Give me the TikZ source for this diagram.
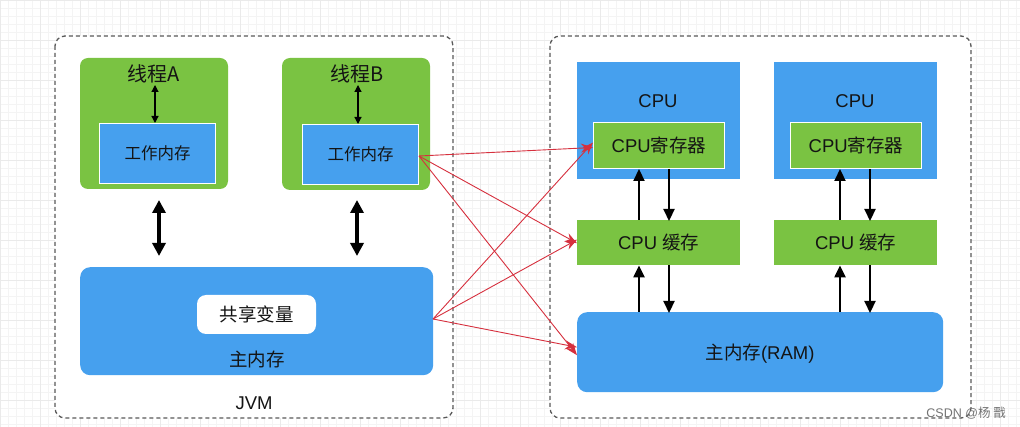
\documentclass[tikz,border=0pt]{standalone}
\usepackage{fontspec}
\setmainfont{Liberation Sans}
\newfontfamily\cjk{Noto Sans CJK SC}
\usetikzlibrary{arrows.meta}
\definecolor{jblue}{RGB}{70,160,238}
\definecolor{jgreen}{RGB}{122,195,66}
\definecolor{jred}{RGB}{214,48,62}
\definecolor{jtext}{RGB}{20,20,20}
\definecolor{gridmin}{RGB}{244,244,244}
\definecolor{gridmaj}{RGB}{234,234,234}
\tikzset{
  panel/.style={draw=black!65, dashed, dash pattern=on 4pt off 3pt, line width=1.3pt, fill=white, rounded corners=10pt},
  thread/.style={fill=jgreen, rounded corners=8pt, draw=none},
  wmem/.style={fill=jblue, draw=white, line width=1pt},
  mainmem/.style={fill=jblue, rounded corners=10pt, draw=none},
  cpubox/.style={fill=jblue, draw=none},
  greenbox/.style={fill=jgreen, draw=none},
  regbox/.style={fill=jgreen, draw=white, line width=1pt},
  lbl/.style={text=jtext, font=\fontsize{16.5}{18}\selectfont, inner sep=0pt},
  big/.style={font=\fontsize{18.5}{20}\selectfont},
  thin2/.style={{Triangle[length=7pt,width=7pt]}-{Triangle[length=7pt,width=7pt]}, line width=1.2pt, black},
  thick2/.style={{Triangle[length=13pt,width=13pt]}-{Triangle[length=13pt,width=13pt]}, line width=4pt, black},
  blk/.style={-{Triangle[length=12pt,width=11pt]}, line width=2.2pt, black},
  redar/.style={-{Stealth[length=12pt,width=9pt]}, line width=0.9pt, jred},
}
\begin{document}
\begin{tikzpicture}[x=1pt,y=-1pt]
\useasboundingbox (0,0) rectangle (1020,427);
% background grid
\draw[gridmin, line width=0.4pt] (0,0) grid[step=8pt] (1020,427);
\foreach \gx in {0,40,...,1020} \draw[gridmaj, line width=0.5pt] (\gx,0) -- (\gx,427);
\foreach \gy in {0,40,...,427} \draw[gridmaj, line width=0.5pt] (0,\gy) -- (1020,\gy);

% panels
\path[panel] (55,36) rectangle (453,418);
\path[panel] (550,36) rectangle (971,418);

% thread A
\path[thread] (80,58) rectangle (228,189);
\node[wmem, minimum width=116pt, minimum height=60pt, anchor=north west] (wa) at (99,123) {};
\node[lbl] at (wa.center) {\cjk 工作内存};
\node[lbl, font=\fontsize{20}{22}\selectfont] (ta) at (154,74) {\cjk 线程A};
\coordinate (tab) at (155,85);
\draw[thin2] (tab) -- (wa.north -| tab);

% thread B
\path[thread] (282,58) rectangle (430,190);
\node[wmem, minimum width=116pt, minimum height=60pt, anchor=north west] (wb) at (302,124) {};
\node[lbl] at (wb.center) {\cjk 工作内存};
\node[lbl, font=\fontsize{20}{22}\selectfont] (tb) at (357,74) {\cjk 线程B};
\coordinate (tbb) at (358,85);
\draw[thin2] (tbb) -- (wb.north -| tbb);

% main memory
\node[mainmem, minimum width=353pt, minimum height=108pt, anchor=north west] (mm) at (80,267) {};
\node[fill=white, rounded corners=9pt, minimum width=119pt, minimum height=39pt, inner sep=0pt] (sv) at (256.5,314.5) {};
\node[lbl, big] at (sv.center) {\cjk 共享变量};
\node[lbl, big] at (257,359) {\cjk 主内存};
\node[lbl, big] (jvm) at (254,403) {JVM};

% thick arrows
\coordinate (a1t) at (159,200); \coordinate (a1b) at (159,256);
\coordinate (a2t) at (357,200); \coordinate (a2b) at (357,256);
\draw[thick2] (a1t) -- (a1b);
\draw[thick2] (a2t) -- (a2b);

% CPUs
\node[cpubox, minimum width=163pt, minimum height=117pt, anchor=north west] (cpu1) at (577,62) {};
\node[lbl, big] at (658,101) {CPU};
\node[regbox, minimum width=131pt, minimum height=46pt, anchor=north west] (r1) at (593,122) {};
\node[lbl, big] at (r1.center) {CPU{\cjk 寄存器}};

\node[cpubox, minimum width=163pt, minimum height=117pt, anchor=north west] (cpu2) at (774,62) {};
\node[lbl, big] at (855,101) {CPU};
\node[regbox, minimum width=131pt, minimum height=46pt, anchor=north west] (r2) at (790,122) {};
\node[lbl, big] at (r2.center) {CPU{\cjk 寄存器}};

% caches
\node[greenbox, minimum width=163pt, minimum height=45pt, anchor=north west] (c1) at (577,220) {};
\node[lbl, big] at (c1.center) {CPU {\cjk 缓存}};
\node[greenbox, minimum width=163pt, minimum height=45pt, anchor=north west] (c2) at (774,220) {};
\node[lbl, big] at (c2.center) {CPU {\cjk 缓存}};

% RAM
\node[mainmem, minimum width=366pt, minimum height=80pt, anchor=north west] (ram) at (577,312) {};
\node[lbl, big] at (760,354) {{\cjk 主内存}(RAM)};

% black arrows CPU 1
\draw[blk] (c1.north -| 639,0) -- (r1.south -| 639,0);
\draw[blk] (r1.south -| 669,0) -- ([yshift=-1pt]c1.north -| 669,0);
\draw[blk] (ram.north -| 639,0) -- (c1.south -| 639,0);
\draw[blk] (c1.south -| 669,0) -- ([yshift=-1pt]ram.north -| 669,0);
% black arrows CPU 2
\draw[blk] (c2.north -| 840,0) -- (r2.south -| 840,0);
\draw[blk] (r2.south -| 870,0) -- ([yshift=-1pt]c2.north -| 870,0);
\draw[blk] (ram.north -| 840,0) -- (c2.south -| 840,0);
\draw[blk] (c2.south -| 870,0) -- ([yshift=-1pt]ram.north -| 870,0);

% red arrows
\coordinate (sb) at (419,156);
\coordinate (sm) at (433,319);
\draw[redar] (sb) -- ([yshift=-2pt]r1.west);
\draw[redar] (sb) -- ([yshift=-0.5pt]c1.west);
\draw[redar] (sb) -- ([yshift=-3pt]ram.west);
\draw[redar] (sm) -- ([yshift=3pt]r1.west);
\draw[redar] (sm) -- ([yshift=3pt]c1.west);
\draw[redar] (sm) -- ([yshift=5pt]ram.west);

% watermark
\node[text=black!55, font=\fontsize{12.5}{14}\selectfont, anchor=east, inner sep=0pt] (wm) at (1006,413) {CSDN @{\cjk 杨 戬}};
\end{tikzpicture}
\end{document}
